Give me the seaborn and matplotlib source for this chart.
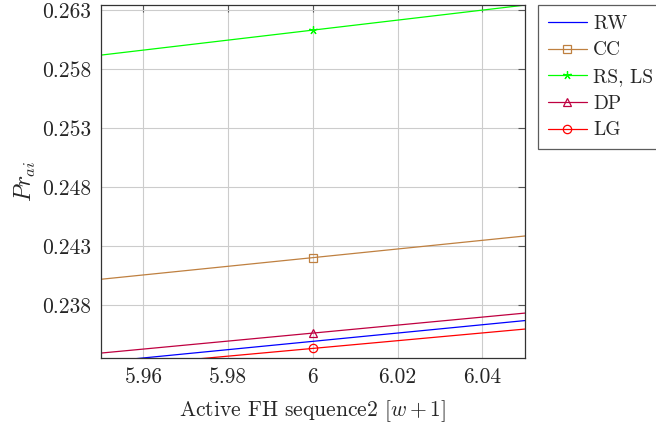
import matplotlib
matplotlib.use("Agg")
from matplotlib import pyplot as plt
import seaborn as sns
import pandas as pd

# sequence positions of the computed points (only x = 6 is in view)
x_vals = [5, 6, 7]
rw = [0.1997, 0.2349, 0.2701]
cc = [0.2053, 0.2420, 0.2787]
rs_ls = [0.2189, 0.2613, 0.3037]
dp = [0.2017, 0.2356, 0.2695]
lg = [0.2015, 0.2343, 0.2671]

names = ["RW", "CC", "RS, LS", "DP", "LG"]
colors = ["#0000FF", "#BF8040", "#00FF00", "#BF0040", "#FF0000"]
markers = [None, "s", (5, 2, 0), "^", "o"]

x_ticks = [5.96, 5.98, 6.0, 6.02, 6.04]
x_tick_labels = ["5.96", "5.98", "6", "6.02", "6.04"]
y_ticks = [0.238, 0.243, 0.248, 0.253, 0.258, 0.263]
y_tick_labels = ["0.238", "0.243", "0.248", "0.253", "0.258", "0.263"]

sns.set_style("whitegrid")
plt.rcParams["font.family"] = ["cmr10", "DejaVu Serif"]
plt.rcParams["mathtext.fontset"] = "cm"
plt.rcParams["axes.formatter.use_mathtext"] = True

fig = plt.figure(figsize=(6.56, 4.26), dpi=100)
ax = fig.add_axes([0.154, 0.16, 0.646, 0.828])

for name, vals, c, m in zip(names, [rw, cc, rs_ls, dp, lg], colors, markers):
    df = pd.DataFrame({"x": x_vals, "y": vals})
    sns.lineplot(data=df, x="x", y="y", ax=ax, color=c, linewidth=0.9,
                 marker=m, markersize=6,
                 markerfacecolor="none", markeredgecolor=c, markeredgewidth=0.9,
                 label=name)

ax.set_xlim(5.95, 6.05)
ax.set_ylim(0.2335, 0.26342)
ax.set_xticks(x_ticks)
ax.set_xticklabels(x_tick_labels)
ax.set_yticks(y_ticks)
ax.set_yticklabels(y_tick_labels)
ax.tick_params(direction="in", length=5, top=True, right=True, labelsize=15.5,
               color="#555555", pad=7)
ax.grid(True, color="#CCCCCC", linewidth=0.8)
for s in ax.spines.values():
    s.set_color("#333333")
    s.set_linewidth(0.9)

ax.set_xlabel("Active FH sequence2 $[w+1]$", fontsize=15.5, labelpad=8)
ax.set_ylabel("$Pr_{ai}$", fontsize=17, labelpad=3)

leg = ax.legend(loc="upper left", bbox_to_anchor=(1.031, 1.0), fontsize=14,
                frameon=True, fancybox=False, edgecolor="#333333",
                borderaxespad=0, handlelength=2.0, labelspacing=0.45,
                borderpad=0.5, handletextpad=0.35)
leg.get_frame().set_linewidth(0.9)

fig.savefig("out.png", dpi=100)
